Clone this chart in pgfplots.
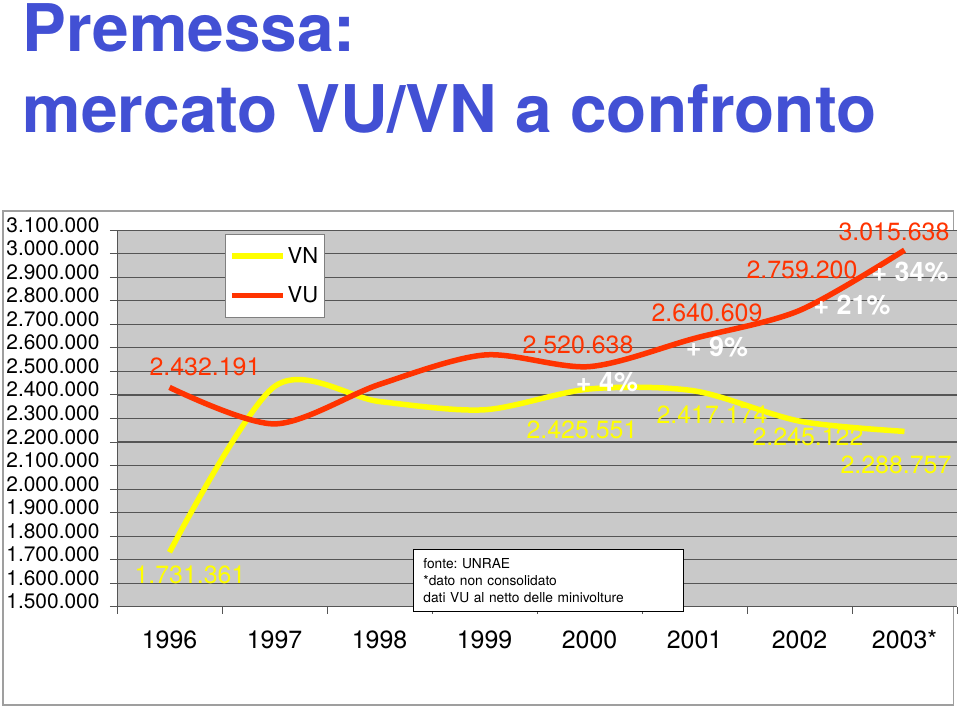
\documentclass[border=0pt]{standalone}
\usepackage{pgfplots}
\pgfplotsset{compat=1.18}
\usepackage{fontspec}
\setmainfont{TeX Gyre Heros}
\definecolor{titleblue}{RGB}{66,80,212}
\definecolor{vured}{RGB}{255,51,0}
\definecolor{vnyellow}{RGB}{255,255,0}
\definecolor{plotgray}{RGB}{201,201,201}
\definecolor{gridgray}{RGB}{85,85,85}
\pgfplotstableread{
x vn vu
0 1731361 2432191
1 2436000 2277000
2 2372000 2445000
3 2337000 2570000
4 2425551 2520638
5 2417174 2640609
6 2288757 2759200
7 2245122 3015638
}\datatable
\begin{document}
\frenchspacing
\begin{tikzpicture}[x=1bp,y=1bp]
\useasboundingbox (0,0) rectangle (960,707);
\node[anchor=base west,inner sep=0,text=titleblue,font=\fontsize{66}{70}\selectfont\bfseries] at (22.7,655) {Premessa:};
\node[anchor=base west,inner sep=0,text=titleblue,font=\fontsize{66}{70}\selectfont\bfseries] at (22.7,574.3) {mercato VU/VN a confronto};
\draw[gray!75,line width=1.2bp] (3,496) rectangle (953.5,2);
\begin{axis}[
  at={(117bp,100.3bp)}, anchor=south west,
  width=840bp, height=376.4bp, scale only axis,
  xmin=-0.5, xmax=7.5, ymin=1500000, ymax=3100000,
  scaled y ticks=false,
  axis background/.style={fill=plotgray},
  axis x line*=bottom, axis y line*=left,
  axis line style={gridgray,line width=1bp,-},
  tick align=outside, major tick length=7bp,
  tick style={gridgray,line width=1bp},
  xtick={-0.5,0.5,...,7.5}, xticklabels={},
  extra x ticks={0,1,2,3,4,5,6,7},
  extra x tick labels={1996,1997,1998,1999,2000,2001,2002,2003*},
  extra x tick style={grid=none,major tick length=0pt,tick style={draw=none},
     xticklabel style={anchor=base,yshift=-42bp}},
  xticklabel style={font=\fontsize{25}{28}\selectfont},
  ytick={1500000,1600000,1700000,1800000,1900000,2000000,2100000,2200000,2300000,2400000,2500000,2600000,2700000,2800000,2900000,3000000,3100000},
  yticklabels={1.500.000,1.600.000,1.700.000,1.800.000,1.900.000,2.000.000,2.100.000,2.200.000,2.300.000,2.400.000,2.500.000,2.600.000,2.700.000,2.800.000,2.900.000,3.000.000,3.100.000},
  yticklabel style={font=\fontsize{21}{23}\selectfont,anchor=base east,xshift=-7bp,yshift=-2bp},
  ymajorgrids, grid style={gridgray,line width=1.1bp},
  legend style={at={(0.1286,0.9902)},anchor=north west,draw=gray,fill=white,
     font=\fontsize{22}{24}\selectfont,row sep=18bp,inner xsep=4bp,inner ysep=11bp},
  legend cell align=left,
  legend image code/.code={\draw[#1] (0bp,0bp) -- (51bp,0bp);},
]
\addplot[vnyellow,line width=5.5bp,smooth,line join=round] table[x=x,y=vn] {\datatable};
\addlegendentry{VN}
\addplot[vured,line width=5.5bp,smooth,line join=round] table[x=x,y=vu] {\datatable};
\addlegendentry{VU}
\end{axis}
\begin{scope}[every node/.style={font=\fontsize{25}{28}\selectfont,inner sep=0}]
\node[text=vured] at (205,340) {2.432.191};
\node[text=vnyellow] at (190,132) {1.731.361};
\node[text=vured] at (578,362) {2.520.638};
\node[text=vured] at (707,394) {2.640.609};
\node[text=vured] at (802,437) {2.759.200};
\node[text=vured] at (894,475) {3.015.638};
\node[text=vnyellow] at (582,277) {2.425.551};
\node[text=vnyellow] at (712,292) {2.417.174};
\node[text=vnyellow] at (808,270) {2.245.122};
\node[text=vnyellow] at (896,242) {2.288.757};
\end{scope}
\begin{scope}[every node/.style={font=\fontsize{27}{29}\selectfont\bfseries,inner sep=0,text=white}]
\node at (607,325) {+ 4\%};
\node at (717,360) {+ 9\%};
\node at (852,402) {+ 21\%};
\node at (910,435) {+ 34\%};
\end{scope}
\node[anchor=north west,draw=black,fill=white,line width=0.8bp,align=left,
  text width=250bp,inner xsep=10bp,inner ysep=9bp,
  font=\fontsize{13.8}{17}\selectfont] at (413,158) {fonte: UNRAE\\ {}*dato non consolidato\\ dati VU al netto delle minivolture};
\end{tikzpicture}
\end{document}
